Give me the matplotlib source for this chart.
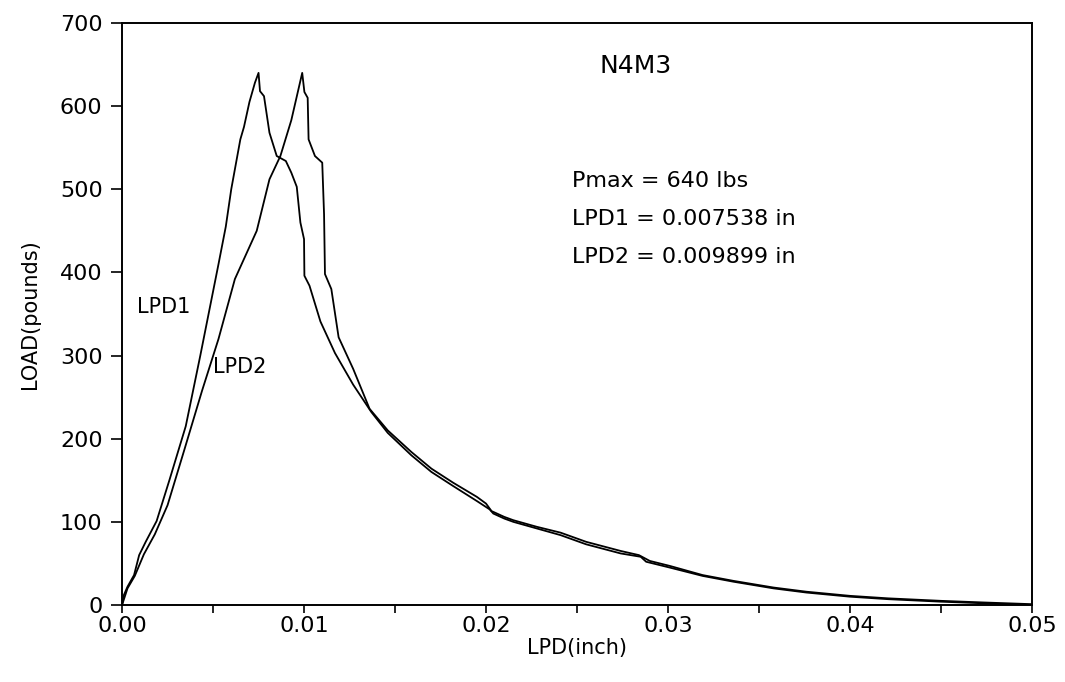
import matplotlib
matplotlib.use("Agg")
import matplotlib.pyplot as plt
from matplotlib.ticker import MultipleLocator

# LPD1 curve (displacement in inch, load in pounds)
lpd1_x = [0, 0.0001, 0.0003, 0.00066, 0.00094, 0.0013, 0.0019, 0.0026, 0.0035,
          0.0043, 0.0048, 0.0053, 0.0057, 0.0060, 0.0065, 0.0067, 0.0070, 0.0073,
          0.0075, 0.00758, 0.0078, 0.0081, 0.0085, 0.0090, 0.0093, 0.0096, 0.0098,
          0.0100, 0.01002, 0.0103, 0.0109, 0.0117, 0.0127, 0.0137, 0.0146, 0.0159,
          0.0170, 0.0182, 0.0195, 0.0202, 0.0204, 0.0210, 0.0215, 0.0228, 0.0241,
          0.0255, 0.0274, 0.0285, 0.0288, 0.0301, 0.0319, 0.0336, 0.0358, 0.0376,
          0.0400, 0.0421, 0.0450, 0.0474, 0.0500]
lpd1_y = [0, 12, 22, 36, 60, 76, 101, 150, 215,
          300, 355, 410, 455, 500, 560, 575, 605, 628,
          640, 618, 612, 568, 540, 534, 520, 503, 460,
          440, 396, 384, 341, 303, 265, 232, 207, 180,
          160, 143, 125, 115, 110, 104, 100, 92, 84,
          73, 62, 58, 52, 45, 35, 28, 20, 15,
          10, 7, 4, 2, 0]

# LPD2 curve
lpd2_x = [0, 0.0003, 0.0007, 0.0012, 0.0018, 0.0025, 0.0034, 0.0044, 0.0053,
          0.0062, 0.0074, 0.0081, 0.0087, 0.0093, 0.0099, 0.01002, 0.0102, 0.01025,
          0.0106, 0.0110, 0.0111, 0.01115, 0.0115, 0.0119, 0.0127, 0.0136, 0.0146,
          0.0159, 0.0170, 0.0182, 0.0195, 0.0200, 0.0203, 0.0210, 0.0215, 0.0228,
          0.0241, 0.0255, 0.0274, 0.0284, 0.0290, 0.0301, 0.0319, 0.0336, 0.0358,
          0.0376, 0.0400, 0.0421, 0.0450, 0.0474, 0.0500]
lpd2_y = [0, 20, 35, 61, 85, 120, 185, 258, 320,
          392, 450, 512, 540, 583, 640, 617, 610, 560,
          540, 532, 470, 398, 380, 322, 284, 236, 210,
          184, 164, 147, 130, 122, 113, 106, 102, 94,
          87, 76, 65, 60, 53, 47, 36, 29, 21,
          16, 11, 8, 5, 3, 1]

x_ticks = [0.00, 0.01, 0.02, 0.03, 0.04, 0.05]
x_tick_labels = ["0.00", "0.01", "0.02", "0.03", "0.04", "0.05"]
y_ticks = [0, 100, 200, 300, 400, 500, 600, 700]

title = "N4M3"
info_lines = ["Pmax = 640 lbs", "LPD1 = 0.007538 in", "LPD2 = 0.009899 in"]

plt.rcParams["font.family"] = "DejaVu Sans"

fig = plt.figure(figsize=(10.65, 6.82), dpi=100)
ax = fig.add_axes([0.1146, 0.1129, 0.8544, 0.8534])

ax.plot(lpd1_x, lpd1_y, color="black", lw=1.3)
ax.plot(lpd2_x, lpd2_y, color="black", lw=1.3)

ax.set_xlim(0, 0.05)
ax.set_ylim(0, 700)
ax.set_xticks(x_ticks)
ax.set_xticklabels(x_tick_labels)
ax.set_yticks(y_ticks)
ax.xaxis.set_minor_locator(MultipleLocator(0.005))
ax.tick_params(axis="both", which="major", direction="out", labelsize=16, width=1.2)
ax.tick_params(axis="y", length=8, pad=6)
ax.tick_params(axis="x", which="both", length=6, width=1.2, pad=2)

for s in ax.spines.values():
    s.set_linewidth(1.4)

ax.set_xlabel("LPD(inch)", fontsize=15, labelpad=1)
ax.set_ylabel("LOAD(pounds)", fontsize=15, labelpad=14)

ax.text(0.0282, 648, title, fontsize=18, ha="center", va="center")
for i, line in enumerate(info_lines):
    ax.text(0.0247, 510 - i * 46, line, fontsize=16, ha="left", va="center")

ax.text(0.0008, 359, "LPD1", fontsize=15, ha="left", va="center")
ax.text(0.0050, 286, "LPD2", fontsize=15, ha="left", va="center")

fig.savefig("out.png", dpi=100)
